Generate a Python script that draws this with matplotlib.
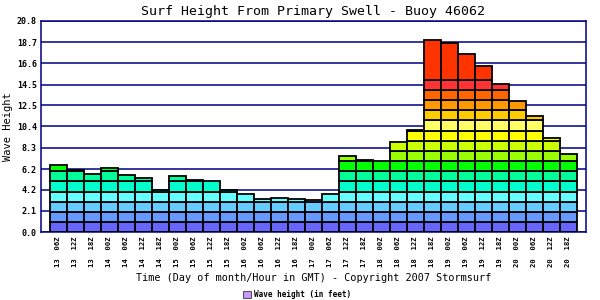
#!/usr/bin/env python
"""Surf height from primary swell, buoy 46062 — stacked colour-band bars."""
import numpy as np
import matplotlib
matplotlib.use("Agg")
import matplotlib.pyplot as plt
from matplotlib.patches import Patch

# day of month / hour (GMT) for each reading
DAYS = ["13", "13", "13", "14", "14", "14", "14", "15", "15", "15", "15",
        "16", "16", "16", "16", "17", "17", "17", "17", "18", "18", "18", "18",
        "19", "19", "19", "19", "20", "20", "20", "20"]
HOURS = ["06Z", "12Z", "18Z", "00Z", "06Z", "12Z", "18Z", "00Z", "06Z", "12Z", "18Z",
         "00Z", "06Z", "12Z", "18Z", "00Z", "06Z", "12Z", "18Z", "00Z", "06Z", "12Z", "18Z",
         "00Z", "06Z", "12Z", "18Z", "00Z", "06Z", "12Z", "18Z"]
# surf height in feet
HEIGHTS = [6.6, 6.1, 5.7, 6.3, 5.6, 5.3, 4.2, 5.5, 5.1, 5.0, 4.2,
           3.8, 3.3, 3.4, 3.3, 3.2, 3.8, 7.5, 7.1, 7.0, 8.9, 10.1, 18.9,
           18.6, 17.5, 16.3, 14.55, 12.9, 11.4, 9.24, 7.67]
YTICKS = [0.0, 2.1, 4.2, 6.2, 8.3, 10.4, 12.5, 14.5, 16.6, 18.7, 20.8]

# colour bands (feet)
BAND_EDGES = list(range(16)) + [30]
BAND_COLORS = ["#6666ff", "#6699ff", "#66ccff", "#66ffff", "#00ffcc", "#00ff99",
               "#00ff00", "#99ff00", "#ccff00", "#ffff00", "#ffff66", "#ffcc00",
               "#ff9900", "#ff6600", "#ff3333", "#ff3300"]
NAVY = "#000080"
MONO = "DejaVu Sans Mono"

fig = plt.figure(figsize=(6, 3), dpi=100)
ax = fig.add_axes([0.0683, 0.2257, 0.9083, 0.7053])

h = np.array(HEIGHTS)
x = np.arange(len(h))
for lo, hi, col in zip(BAND_EDGES[:-1], BAND_EDGES[1:], BAND_COLORS):
    seg = np.clip(h - lo, 0, hi - lo)
    m = seg > 0
    if m.any():
        ax.bar(x[m], seg[m], bottom=lo, width=1.0, color=col,
               edgecolor="black", linewidth=1.3, zorder=3)

ax.set_xlim(-1.03, len(h) - 1 + 1.03)
ax.set_ylim(0, 20.8)
ax.set_yticks(YTICKS)
ax.set_yticklabels([f"{v:.1f}" for v in YTICKS], family=MONO, fontsize=6, weight="bold")
ax.yaxis.grid(True, color=NAVY, lw=1.1, zorder=1)
ax.tick_params(axis="both", length=0, pad=3)
ax.set_xticks(x)
ax.set_xticklabels([f"{d}  {hr}" for d, hr in zip(DAYS, HOURS)], rotation=90,
                   family=MONO, fontsize=5.2, weight="bold")
for s in ax.spines.values():
    s.set_color(NAVY); s.set_linewidth(1.1)

ax.set_title("Surf Height From Primary Swell - Buoy 46062", family=MONO,
             fontsize=9.5, pad=4)
ax.set_ylabel("Wave Height", family=MONO, fontsize=7.5, labelpad=3)
ax.set_xlabel("Time (Day of month/Hour in GMT) - Copyright 2007 Stormsurf",
              family=MONO, fontsize=7.3, labelpad=4)

fig.legend(handles=[Patch(facecolor="#cc99ff", edgecolor="#555555", lw=0.8,
                          label="Wave height (in feet)")],
           loc="center", bbox_to_anchor=(0.495, 0.017), frameon=False,
           prop={"family": MONO, "size": 5.5, "weight": "bold"},
           handlelength=1.1, handleheight=1.1, handletextpad=0.3, borderpad=0)

fig.savefig("out.png", dpi=100)
